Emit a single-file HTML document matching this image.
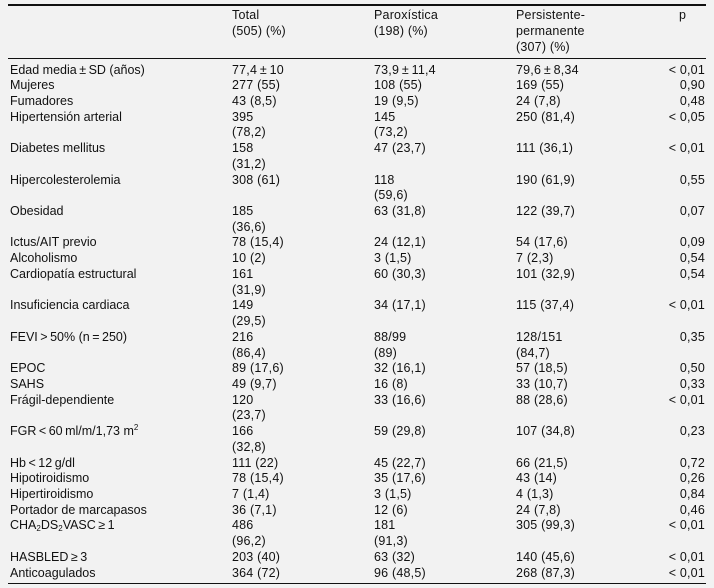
<!DOCTYPE html>
<html>
<head>
<meta charset="utf-8">
<style>
  html, body { margin:0; padding:0; }
  body { width:714px; height:588px; background:#f2f2f2; position:relative; overflow:hidden;
         font-family:"Liberation Sans", "DejaVu Sans", sans-serif; font-size:12.5px; color:#111; }
  .rule { position:absolute; left:8px; width:698px; background:#111; }
  .ln { position:absolute; left:0; width:714px; height:15.72px; line-height:15.72px; white-space:nowrap; }
  .ln span { position:absolute; top:0; }
  .c0 { left:10px; }
  .c1 { left:232px; letter-spacing:0.2px; }
  .c2 { left:374px; letter-spacing:0.2px; }
  .c3 { left:516px; letter-spacing:0.2px; }
  .c4 { right:9px; text-align:right; letter-spacing:0.2px; }
  sub, sup { font-size:8px; line-height:0; }
  sub { vertical-align:-2px; }
  sup { vertical-align:5px; }
</style>
</head>
<body>
<div class="rule" style="top:4px;height:1.5px;"></div>
<div class="rule" style="top:58px;height:1px;"></div>
<div class="rule" style="top:583px;height:1px;"></div>

<!-- header -->
<div class="ln" style="top:8px"><span class="c1">Total</span><span class="c2">Paroxística</span><span class="c3">Persistente-</span><span style="left:679px">p</span></div>
<div class="ln" style="top:24px"><span class="c1">(505) (%)</span><span class="c2">(198) (%)</span><span class="c3">permanente</span></div>
<div class="ln" style="top:39.5px"><span class="c3">(307) (%)</span></div>

<div class="ln" style="top:62.5px"><span class="c0">Edad media&thinsp;±&thinsp;SD (años)</span><span class="c1">77,4&thinsp;±&thinsp;10</span><span class="c2">73,9&thinsp;±&thinsp;11,4</span><span class="c3">79,6&thinsp;±&thinsp;8,34</span><span class="c4">&lt; 0,01</span></div>
<div class="ln" style="top:78.2px"><span class="c0">Mujeres</span><span class="c1">277 (55)</span><span class="c2">108 (55)</span><span class="c3">169 (55)</span><span class="c4">0,90</span></div>
<div class="ln" style="top:93.9px"><span class="c0">Fumadores</span><span class="c1">43 (8,5)</span><span class="c2">19 (9,5)</span><span class="c3">24 (7,8)</span><span class="c4">0,48</span></div>
<div class="ln" style="top:109.7px"><span class="c0">Hipertensión arterial</span><span class="c1">395</span><span class="c2">145</span><span class="c3">250 (81,4)</span><span class="c4">&lt; 0,05</span></div>
<div class="ln" style="top:125.4px"><span class="c1">(78,2)</span><span class="c2">(73,2)</span></div>
<div class="ln" style="top:141.1px"><span class="c0">Diabetes mellitus</span><span class="c1">158</span><span class="c2">47 (23,7)</span><span class="c3">111 (36,1)</span><span class="c4">&lt; 0,01</span></div>
<div class="ln" style="top:156.8px"><span class="c1">(31,2)</span></div>
<div class="ln" style="top:172.5px"><span class="c0">Hipercolesterolemia</span><span class="c1">308 (61)</span><span class="c2">118</span><span class="c3">190 (61,9)</span><span class="c4">0,55</span></div>
<div class="ln" style="top:188.3px"><span class="c2">(59,6)</span></div>
<div class="ln" style="top:204.0px"><span class="c0">Obesidad</span><span class="c1">185</span><span class="c2">63 (31,8)</span><span class="c3">122 (39,7)</span><span class="c4">0,07</span></div>
<div class="ln" style="top:219.7px"><span class="c1">(36,6)</span></div>
<div class="ln" style="top:235.4px"><span class="c0">Ictus/AIT previo</span><span class="c1">78 (15,4)</span><span class="c2">24 (12,1)</span><span class="c3">54 (17,6)</span><span class="c4">0,09</span></div>
<div class="ln" style="top:251.2px"><span class="c0">Alcoholismo</span><span class="c1">10 (2)</span><span class="c2">3 (1,5)</span><span class="c3">7 (2,3)</span><span class="c4">0,54</span></div>
<div class="ln" style="top:266.9px"><span class="c0">Cardiopatía estructural</span><span class="c1">161</span><span class="c2">60 (30,3)</span><span class="c3">101 (32,9)</span><span class="c4">0,54</span></div>
<div class="ln" style="top:282.6px"><span class="c1">(31,9)</span></div>
<div class="ln" style="top:298.3px"><span class="c0">Insuficiencia cardiaca</span><span class="c1">149</span><span class="c2">34 (17,1)</span><span class="c3">115 (37,4)</span><span class="c4">&lt; 0,01</span></div>
<div class="ln" style="top:314.0px"><span class="c1">(29,5)</span></div>
<div class="ln" style="top:329.7px"><span class="c0">FEVI&thinsp;&gt;&thinsp;50% (n&thinsp;=&thinsp;250)</span><span class="c1">216</span><span class="c2">88/99</span><span class="c3">128/151</span><span class="c4">0,35</span></div>
<div class="ln" style="top:345.5px"><span class="c1">(86,4)</span><span class="c2">(89)</span><span class="c3">(84,7)</span></div>
<div class="ln" style="top:361.2px"><span class="c0">EPOC</span><span class="c1">89 (17,6)</span><span class="c2">32 (16,1)</span><span class="c3">57 (18,5)</span><span class="c4">0,50</span></div>
<div class="ln" style="top:376.9px"><span class="c0">SAHS</span><span class="c1">49 (9,7)</span><span class="c2">16 (8)</span><span class="c3">33 (10,7)</span><span class="c4">0,33</span></div>
<div class="ln" style="top:392.6px"><span class="c0">Frágil-dependiente</span><span class="c1">120</span><span class="c2">33 (16,6)</span><span class="c3">88 (28,6)</span><span class="c4">&lt; 0,01</span></div>
<div class="ln" style="top:408.4px"><span class="c1">(23,7)</span></div>
<div class="ln" style="top:424.1px"><span class="c0">FGR&thinsp;&lt;&thinsp;60&thinsp;ml/m/1,73 m<sup>2</sup></span><span class="c1">166</span><span class="c2">59 (29,8)</span><span class="c3">107 (34,8)</span><span class="c4">0,23</span></div>
<div class="ln" style="top:439.8px"><span class="c1">(32,8)</span></div>
<div class="ln" style="top:455.5px"><span class="c0">Hb&thinsp;&lt;&thinsp;12&thinsp;g/dl</span><span class="c1">111 (22)</span><span class="c2">45 (22,7)</span><span class="c3">66 (21,5)</span><span class="c4">0,72</span></div>
<div class="ln" style="top:471.2px"><span class="c0">Hipotiroidismo</span><span class="c1">78 (15,4)</span><span class="c2">35 (17,6)</span><span class="c3">43 (14)</span><span class="c4">0,26</span></div>
<div class="ln" style="top:487.0px"><span class="c0">Hipertiroidismo</span><span class="c1">7 (1,4)</span><span class="c2">3 (1,5)</span><span class="c3">4 (1,3)</span><span class="c4">0,84</span></div>
<div class="ln" style="top:502.7px"><span class="c0">Portador de marcapasos</span><span class="c1">36 (7,1)</span><span class="c2">12 (6)</span><span class="c3">24 (7,8)</span><span class="c4">0,46</span></div>
<div class="ln" style="top:518.4px"><span class="c0">CHA<sub>2</sub>DS<sub>2</sub>VASC&thinsp;≥&thinsp;1</span><span class="c1">486</span><span class="c2">181</span><span class="c3">305 (99,3)</span><span class="c4">&lt; 0,01</span></div>
<div class="ln" style="top:534.1px"><span class="c1">(96,2)</span><span class="c2">(91,3)</span></div>
<div class="ln" style="top:549.8px"><span class="c0">HASBLED&thinsp;≥&thinsp;3</span><span class="c1">203 (40)</span><span class="c2">63 (32)</span><span class="c3">140 (45,6)</span><span class="c4">&lt; 0,01</span></div>
<div class="ln" style="top:565.5px"><span class="c0">Anticoagulados</span><span class="c1">364 (72)</span><span class="c2">96 (48,5)</span><span class="c3">268 (87,3)</span><span class="c4">&lt; 0,01</span></div>
</body>
</html>
